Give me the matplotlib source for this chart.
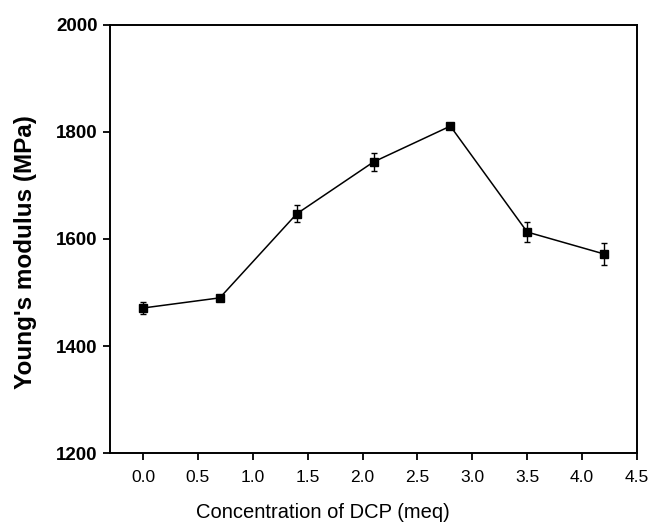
import matplotlib
matplotlib.use("Agg")
import matplotlib.pyplot as plt

plt.rcParams["font.family"] = ["Liberation Sans", "DejaVu Sans"]

# Young's modulus vs DCP concentration
dcp = [0.0, 0.7, 1.4, 2.1, 2.8, 3.5, 4.2]
modulus = [1471, 1490, 1647, 1744, 1811, 1613, 1572]
err = [12, 5, 16, 16, 6, 18, 20]

xticks = [0.0, 0.5, 1.0, 1.5, 2.0, 2.5, 3.0, 3.5, 4.0, 4.5]
yticks = [1200, 1400, 1600, 1800, 2000]

fig = plt.figure(figsize=(6.55, 5.27), dpi=100)
ax = fig.add_axes([0.168, 0.1404, 0.8045, 0.8122])

ax.errorbar(dcp, modulus, yerr=err, fmt="s-", color="black", markersize=5.5,
            linewidth=1.1, elinewidth=1, capsize=2.5, capthick=1)

ax.set_xlim(-0.3, 4.5)
ax.set_ylim(1200, 2000)
ax.set_xticks(xticks)
ax.set_xticklabels([f"{v:.1f}" for v in xticks], fontsize=12.5)
ax.set_yticks(yticks)
ax.set_yticklabels([str(v) for v in yticks], fontsize=13.5, fontweight="bold")

for s in ax.spines.values():
    s.set_linewidth(1.4)
ax.tick_params(direction="out", length=5, width=1.3, pad=4)
ax.tick_params(axis="x", pad=7)

fig.text(323 / 655, 1 - 513 / 527, "Concentration of DCP (meq)",
         fontsize=14.5, ha="center", va="center")
fig.text(26 / 655, 1 - 252 / 527, "Young's modulus (MPa)", fontsize=17.5,
         fontweight="bold", rotation=90, ha="center", va="center")

fig.savefig("out.png", dpi=100)
